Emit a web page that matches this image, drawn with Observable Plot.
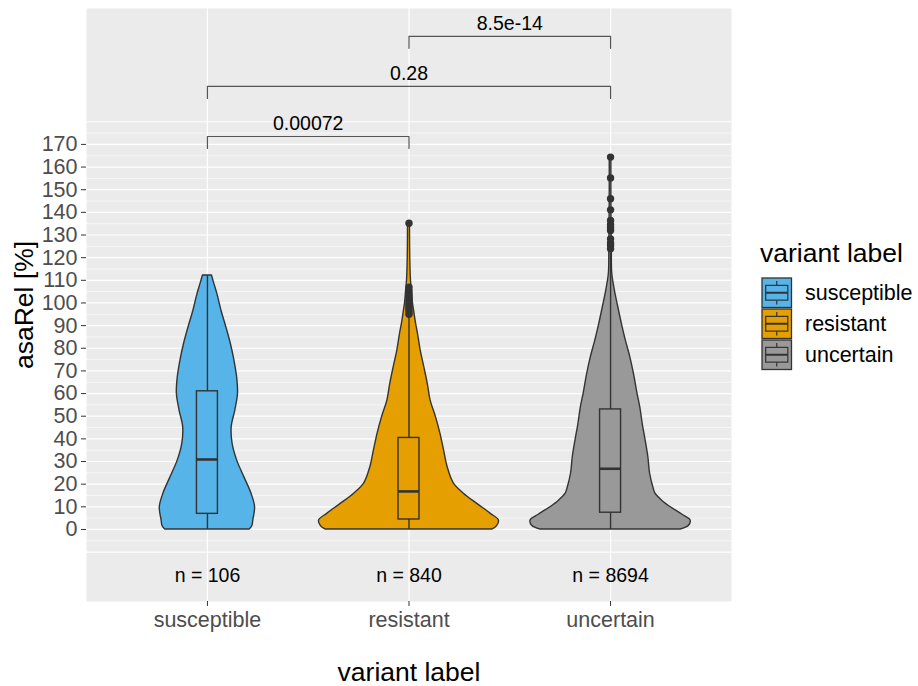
<!DOCTYPE html>
<html><head><meta charset="utf-8">
<script src="https://cdn.jsdelivr.net/npm/d3@7"></script>
<script src="https://cdn.jsdelivr.net/npm/@observablehq/plot@0.6"></script>
<style>
body{margin:0;background:#fff;font-family:"Liberation Sans",Arial,sans-serif;}
#wrap{width:918px;height:686px;}
</style></head><body><div id="wrap"></div>
<script>
// ---------- data ----------
const groups = ["susceptible", "resistant", "uncertain"];
const counts = [106, 840, 8694];
const colors = ["#56B4E9", "#E69F00", "#999999"];
const yTicks = d3.range(0, 171, 10);
const gridMajor = d3.range(-10, 181, 10);
const gridMinor = d3.range(-5, 180, 10);

// violin outlines: [value, relative density (1 = widest)]
const densSusceptible = [[0,.47],[1.5,.50],[4,.51],[9.8,.53],[15.8,.49],[23.1,.41],[30.5,.33],[37.8,.28],[45.2,.27],[52.5,.31],[59.9,.34],[67.2,.33],[74.6,.30],[82,.26],[89.3,.21],[96,.16],[104,.11],[108,.08],[112.1,.05]];
const densResistant = [[0,.93],[1.5,.98],[4,1.0],[6.9,.91],[11.3,.76],[15.8,.61],[20.2,.50],[27.5,.43],[34.9,.39],[42.2,.35],[49.6,.30],[57,.24],[64,.21],[71.7,.17],[79,.13],[86.4,.10],[91,.078],[96.7,.056],[100,.044],[105,.033],[110,.022],[120,.014],[135.2,.011]];
const densUncertain = [[0,.78],[1.5,.87],[4,.89],[6.5,.80],[9.8,.67],[12.5,.58],[15.8,.50],[18,.48],[24.6,.44],[32,.42],[39.3,.39],[46,.36],[54,.33],[59.9,.30],[68.7,.26],[76,.22],[83.4,.17],[90,.13],[98.1,.086],[105.5,.048],[112.9,.019],[123.2,.014],[135,.011],[150,.009],[164.4,.009]];

// boxplot statistics
const q1 = [6.9, 4.4, 7.4];
const medians = [30.9, 16.8, 26.8];
const q3 = [61, 40.4, 53];
const whiskerLow = [0, 0, 0];
const whiskerHigh = [112, 94, 122];
const outliersResistant = [95, 96, 97, 98, 99, 100, 101, 102.5, 104, 105.5, 107, 135.2];
const outliersUncertain = [123.9, 125.4, 126.5, 128.3, 132, 133.2, 134.5, 136.4, 141.1, 146, 155.2, 164.4];

// pairwise comparisons
const compFrom = ["resistant", "susceptible", "susceptible"];
const compTo = ["uncertain", "uncertain", "resistant"];
const pLabels = ["8.5e-14", "0.28", "0.00072"];
const bracketY = [217.7, 195.6, 173.5];

// ---------- derived tables ----------
const pos = g => groups.indexOf(g) + 1;
const HALF = 0.446, BOXW = 0.052, TIP = 5.3;
const violinRows = [];
[densSusceptible, densResistant, densUncertain].forEach((arr, i) =>
  arr.forEach(([v, d]) => violinRows.push({g: groups[i], x: i + 1, v, d})));
const boxRows = groups.map((g, i) => ({g, x: i + 1, q1: q1[i], med: medians[i], q3: q3[i], lo: whiskerLow[i], hi: whiskerHigh[i]}));
const outRows = [
  ...outliersResistant.map(v => ({x: 2, v})),
  ...outliersUncertain.map(v => ({x: 3, v}))
];
const nRows = groups.map((g, i) => ({x: i + 1, t: `n = ${counts[i]}`}));
const bracketRows = [];
compFrom.forEach((a, i) => {
  const xa = pos(a), xb = pos(compTo[i]), y = bracketY[i];
  [[xa, y - TIP], [xa, y], [xb, y], [xb, y - TIP]].forEach(([x, yy]) => bracketRows.push({k: i, x, y: yy}));
});
const pRows = pLabels.map((p, i) => ({x: (pos(compFrom[i]) + pos(compTo[i])) / 2, y: bracketY[i], p}));

const ink = "#333333";
const chart = Plot.plot({
  width: 918, height: 686,
  marginLeft: 86, marginRight: 187, marginTop: 8, marginBottom: 85,
  style: {fontFamily: '"Liberation Sans", Arial, sans-serif', background: "white"},
  x: {type: "linear", domain: [0.4, 3.6]},
  y: {domain: [-31.8, 230]},
  color: {domain: groups, range: colors},
  marks: [
    Plot.frame({fill: "#EBEBEB", stroke: null}),
    Plot.ruleY(gridMinor, {stroke: "white", strokeWidth: 0.6}),
    Plot.ruleY(gridMajor, {stroke: "white", strokeWidth: 1.2}),
    Plot.ruleX([1, 2, 3], {stroke: "white", strokeWidth: 1.2}),
    Plot.areaX(violinRows, {y: "v", x1: d => d.x - d.d * HALF, x2: d => d.x + d.d * HALF, z: "g", fill: "g", stroke: ink, strokeWidth: 1.4, curve: "catmull-rom"}),
    Plot.ruleX(boxRows, {x: "x", y1: "lo", y2: "q1", stroke: ink, strokeWidth: 1.4}),
    Plot.ruleX(boxRows, {x: "x", y1: "q3", y2: "hi", stroke: ink, strokeWidth: 1.4}),
    Plot.rect(boxRows, {x1: d => d.x - BOXW, x2: d => d.x + BOXW, y1: "q1", y2: "q3", fill: "g", stroke: ink, strokeWidth: 1.4}),
    Plot.ruleY(boxRows, {y: "med", x1: d => d.x - BOXW, x2: d => d.x + BOXW, stroke: ink, strokeWidth: 2.6}),
    Plot.dot(outRows, {x: "x", y: "v", r: 3.7, fill: ink, stroke: null}),
    Plot.text(nRows, {x: "x", y: -20.5, text: "t", fontSize: 19.5, fill: "black"}),
    Plot.line(bracketRows, {x: "x", y: "y", z: "k", stroke: "#555", strokeWidth: 1.2}),
    Plot.text(pRows, {x: "x", y: "y", text: "p", dy: -13, fontSize: 19.5, fill: "black"}),
    Plot.axisY(yTicks, {tickSize: 5, tickPadding: 4, fontSize: 21.5, label: null, color: ink}),
    Plot.axisX([1, 2, 3], {tickFormat: i => groups[i - 1], tickSize: 5, tickPadding: 5, fontSize: 21.5, label: null, color: ink}),
    Plot.text(["variant label"], {frameAnchor: "bottom", dy: 71, fontSize: 26.5, fill: "black", lineAnchor: "middle"}),
    Plot.text(["asaRel [%]"], {frameAnchor: "left", dx: -62, rotate: -90, fontSize: 26.5, fill: "black", lineAnchor: "middle", textAnchor: "middle"})
  ]
});
document.getElementById("wrap").appendChild(chart);
const svg = d3.select(chart);
svg.selectAll('[aria-label="y-axis tick label"] text, [aria-label="x-axis tick label"] text').attr("fill", "#4D4D4D");

// ---------- legend ----------
const lg = svg.append("g").attr("font-family", '"Liberation Sans", Arial, sans-serif').attr("text-anchor", "start");
lg.append("text").attr("x", 760).attr("y", 253).attr("dy", "0.35em").attr("font-size", 26.5).attr("fill", "black").text("variant label");
groups.forEach((g, i) => {
  const x0 = 762, y0 = 278 + i * 31, s = 29.5;
  const k = lg.append("g");
  k.append("rect").attr("x", x0).attr("y", y0).attr("width", s).attr("height", s).attr("fill", colors[i]).attr("stroke", ink).attr("stroke-width", 1.3);
  k.append("line").attr("x1", x0 + s / 2).attr("x2", x0 + s / 2).attr("y1", y0 + s * 0.1).attr("y2", y0 + s * 0.25).attr("stroke", ink).attr("stroke-width", 1.2);
  k.append("line").attr("x1", x0 + s / 2).attr("x2", x0 + s / 2).attr("y1", y0 + s * 0.75).attr("y2", y0 + s * 0.9).attr("stroke", ink).attr("stroke-width", 1.2);
  k.append("rect").attr("x", x0 + s * 0.125).attr("y", y0 + s * 0.25).attr("width", s * 0.75).attr("height", s * 0.5).attr("fill", colors[i]).attr("stroke", ink).attr("stroke-width", 1.2);
  k.append("line").attr("x1", x0 + s * 0.125).attr("x2", x0 + s * 0.875).attr("y1", y0 + s / 2).attr("y2", y0 + s / 2).attr("stroke", ink).attr("stroke-width", 2);
  lg.append("text").attr("x", 805).attr("y", y0 + s / 2).attr("dy", "0.35em").attr("font-size", 21.5).attr("fill", "black").text(g);
});
</script></body></html>
